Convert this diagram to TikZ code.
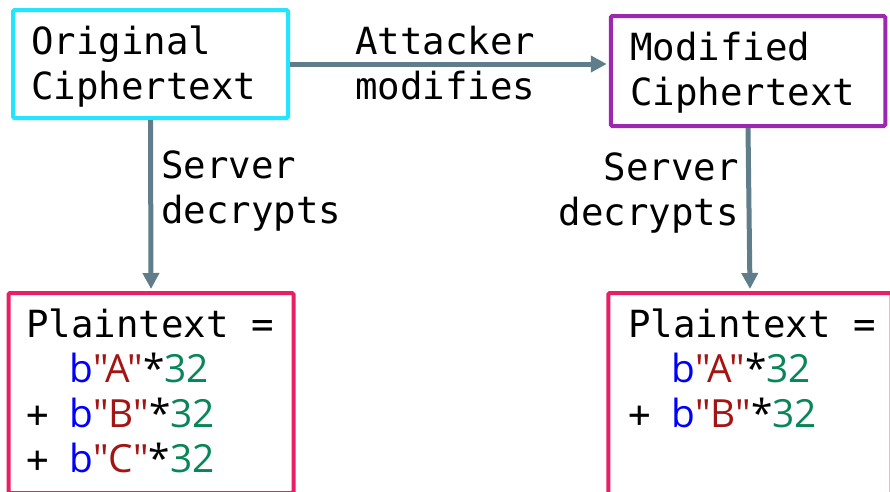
\documentclass[tikz,border=0pt]{standalone}
\usepackage{fontspec}
\setmonofont{DejaVu Sans Mono}
\newfontfamily\codesans{Open Sans}
\usetikzlibrary{arrows.meta}
\definecolor{cyanbox}{HTML}{22E5FF}
\definecolor{purplebox}{HTML}{9C27B0}
\definecolor{pinkbox}{HTML}{E91E63}
\definecolor{arrowgray}{HTML}{607D8B}
\definecolor{kwblue}{HTML}{0000FF}
\definecolor{strred}{HTML}{A31515}
\definecolor{numgreen}{HTML}{098658}
\newcommand{\pyb}[1]{\kern-2pt{\codesans\fontsize{38.8}{45}\selectfont
  \textcolor{kwblue}{b}\textcolor{strred}{"#1"}*\textcolor{numgreen}{32}}}
\begin{document}
\begin{tikzpicture}[x=1pt,y=-1pt,
  box/.style={draw, line width=4pt, rounded corners=1.5pt, inner sep=0pt},
  txt/.style={font=\ttfamily\fontsize{37.4}{45}\selectfont, inner sep=0pt, align=left, text=black},
  conn/.style={draw=arrowgray, line width=5pt,
    -{Triangle[length=16pt,width=16pt,fill=arrowgray]}, shorten >=2pt}]
  \useasboundingbox (0,0) rectangle (890,491);
  \clip (0,0) rectangle (890,491);

  % ciphertext boxes
  \node[box, draw=cyanbox, minimum width=275pt, minimum height=108pt] (orig) at (150.5,64) {};
  \node[box, draw=purplebox, minimum width=274.5pt, minimum height=110pt] (mod) at (748,71) {};
  % plaintext boxes (run past the lower and right borders)
  \node[box, draw=pinkbox, minimum width=285pt, minimum height=200pt] (pt1) at (151,393) {};
  \node[box, draw=pinkbox, minimum width=283.4pt, minimum height=204pt] (pt2) at (750,395) {};

  % box contents (base anchor sits on the last line)
  \node[txt, anchor=base west] (origtxt) at (31,99) {Original\\Ciphertext};
  \node[txt, anchor=base west] (modtxt) at (630,105) {Modified\\Ciphertext};
  \node[txt, anchor=base west] (pt1txt) at (26,472)
    {Plaintext =\\\phantom{+}\ \pyb{A}\\+ \pyb{B}\\+ \pyb{C}};
  \node[txt, anchor=base west] (pt2txt) at (628,427)
    {Plaintext =\\\phantom{+}\ \pyb{A}\\+ \pyb{B}};

  % connectors and their labels
  \draw[conn] (orig.east) -- (orig.east -| mod.west);
  \draw[conn] (orig.south) -- (pt1.north);
  \draw[conn] (mod.south) -- (pt2.north);
  \node[txt, anchor=base west] (atk) at (355,99) {Attacker\\modifies};
  \node[txt, anchor=base west] (dec1) at (161,223) {Server\\decrypts};
  \node[txt, anchor=base east, align=right] (dec2) at (739,225) {Server\\decrypts};
\end{tikzpicture}
\end{document}
